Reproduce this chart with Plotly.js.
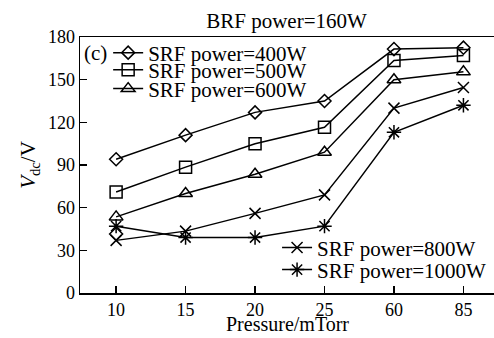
<!DOCTYPE html>
<html><head><meta charset="utf-8">
<script src="https://cdn.plot.ly/plotly-3.0.1.min.js"></script>
<style>body{margin:0;background:#fff}#c{width:494px;height:338px}</style>
</head><body><div id="c"></div>
<script>
const pressures = ['10','15','20','25','60','85'];
const srf400 = [94, 111, 127, 135, 171.5, 172.5];
const srf500 = [71, 88.5, 105, 116.5, 163.5, 167];
const srf600 = [53.5, 70, 83.5, 99, 150, 155.5];
const srf800 = [37, 43.5, 56, 69, 130, 144.5];
const srf1000 = [47, 39, 39, 47, 113, 132];
const strayX = ['10'];
const strayY = [41.5];

const FAM = 'Liberation Serif, Times New Roman, serif';
const font = {family:FAM, size:21, color:'#000'};
const tickfont = {family:FAM, size:18, color:'#000'};
function tr(name, y, sym, size, legend){
  return {x:pressures, y:y, name:name, type:'scatter', mode:'lines+markers',
    line:{color:'#000', width:1.5},
    marker:{symbol:sym, size:size, color:'#000', line:{color:'#000', width:1.5}},
    legend:legend};
}
const data = [
  tr('SRF power=400W', srf400, 'diamond-open', 10, 'legend'),
  tr('SRF power=500W', srf500, 'square-open', 12, 'legend2'),
  tr('SRF power=600W', srf600, 'triangle-up-open', 12, 'legend3'),
  tr('SRF power=800W', srf800, 'x-thin-open', 11, 'legend4'),
  tr('SRF power=1000W', srf1000, 'asterisk-open', 12, 'legend5'),
  {x:strayX, y:strayY, type:'scatter', mode:'markers', showlegend:false,
   marker:{symbol:'diamond-open', size:10, color:'#000', line:{color:'#000', width:1.5}}}
];
function leg(x, y){
  return {x:x, y:y, xanchor:'left', yanchor:'middle', bgcolor:'rgba(0,0,0,0)', font:font,
    tracegroupgap:0, itemwidth:30, borderwidth:0};
}
const layout = {
  width:494, height:338, margin:{l:80, r:0, t:37, b:45},
  paper_bgcolor:'#fff', plot_bgcolor:'#fff', font:font,
  title:{text:'BRF power=160W', font:font, x:0.58, xanchor:'center', y:0.94, yanchor:'middle'},
  xaxis:{type:'category', range:[-0.52, 5.44], showline:true, linecolor:'#000', linewidth:1.5,
    mirror:true, ticks:'inside', ticklen:7, tickwidth:1.5, tickcolor:'#000', showgrid:false, zeroline:false,
    tickfont:tickfont},
  yaxis:{range:[0,180], tickvals:[0,30,60,90,120,150,180], showline:true, linecolor:'#000', linewidth:1.5,
    ticks:'inside', ticklen:7, tickwidth:1.5, tickcolor:'#000', showgrid:false, zeroline:false,
    tickfont:tickfont, title:{text:'<i>V</i><sub>dc</sub>/V', font:font, standoff:6}},
  legend:leg(0.068, 0.9375),
  legend2:leg(0.068, 0.871),
  legend3:leg(0.068, 0.797),
  legend4:leg(0.476, 0.176),
  legend5:leg(0.476, 0.090),
  annotations:[
    {text:'(c)', xref:'paper', yref:'paper', x:0.0, y:1.0, xanchor:'left', yanchor:'top',
     showarrow:false, font:font, xshift:2, yshift:-2},
    {text:'Pressure/mTorr', xref:'paper', yref:'paper', x:0.5, y:0, xanchor:'center', yanchor:'top',
     showarrow:false, font:{family:FAM, size:20, color:'#000'}, borderpad:0, yshift:-19}
  ]
};
Plotly.newPlot('c', data, layout, {displayModeBar:false, staticPlot:true});
</script></body></html>
